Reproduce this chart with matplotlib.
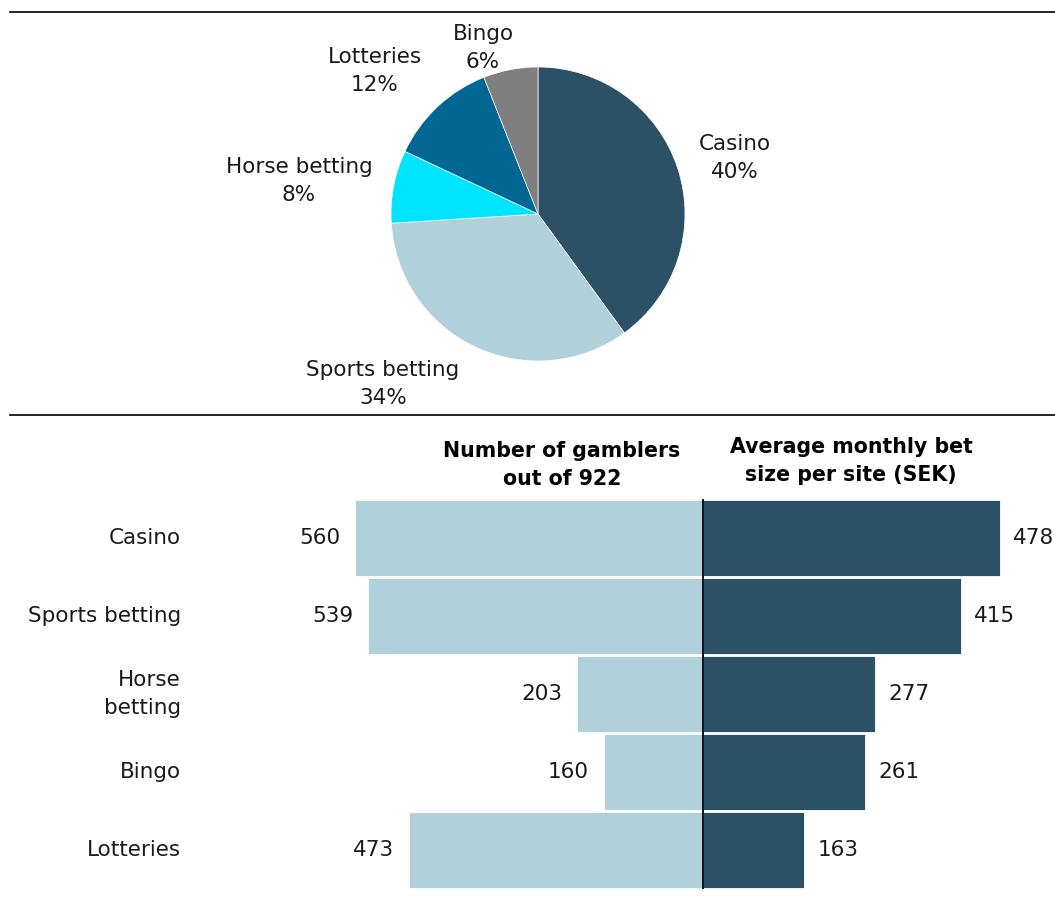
import matplotlib
matplotlib.use("Agg")
import matplotlib.pyplot as plt
from matplotlib.lines import Line2D

plt.rcParams['font.family'] = ['DejaVu Sans']

# Pie data
pie_labels = ["Casino", "Sports betting", "Horse betting", "Lotteries", "Bingo"]
pie_values = [40, 34, 8, 12, 6]
pie_colors = ["#2C5066", "#B0D0DC", "#00E5FF", "#006794", "#7F7F7F"]

# Bar data
bar_categories = ["Casino", "Sports betting", "Horse\nbetting", "Bingo", "Lotteries"]
gamblers = [560, 539, 203, 160, 473]
bet_size = [478, 415, 277, 261, 163]
left_title = "Number of gamblers\nout of 922"
right_title = "Average monthly bet\nsize per site (SEK)"

W, H = 1055, 906
fig = plt.figure(figsize=(W / 100, H / 100), dpi=100)
FS = 15.5
LS = 1.45
TXT = "#1a1a1a"

def fx(px):
    return px / W

def fy(py):
    return 1 - py / H

# separator lines
for y in (12, 415):
    fig.add_artist(Line2D([fx(10), fx(1055)], [fy(y), fy(y)], color="black", lw=1.2))

# Pie
cx, cy, r = 538, 214, 147
axp = fig.add_axes([fx(cx - r), fy(cy + r), fx(2 * r), (2 * r) / H])
axp.pie(pie_values, colors=pie_colors, startangle=90, counterclock=False,
        wedgeprops=dict(linewidth=0.5, edgecolor="white"))
axp.set_xlim(-1, 1)
axp.set_ylim(-1, 1)
axp.axis("off")

label_pos = {
    "Casino": (735, 158),
    "Sports betting": (383, 384),
    "Horse betting": (299, 181),
    "Lotteries": (375, 71),
    "Bingo": (483, 48),
}
for lab, val in zip(pie_labels, pie_values):
    px, py = label_pos[lab]
    fig.text(fx(px), fy(py), f"{lab}\n{val}%", ha="center", va="center",
             fontsize=FS, color=TXT, linespacing=LS)

# Bars
scale = 0.621  # px per unit
zero_px = 703
ax_left_px, ax_right_px = 190, 1055
top_px, bot_px = 499, 889
ax = fig.add_axes([fx(ax_left_px), fy(bot_px), fx(ax_right_px - ax_left_px), (bot_px - top_px) / H])
ax.set_xlim(-(zero_px - ax_left_px) / scale, (ax_right_px - zero_px) / scale)
n = len(bar_categories)
ax.set_ylim(n - 0.5, -0.5)
ys = list(range(n))
ax.barh(ys, [-g for g in gamblers], height=0.975, color="#B0D0DC", edgecolor="white", linewidth=0.6)
ax.barh(ys, bet_size, height=0.975, color="#2C5066", edgecolor="white", linewidth=0.6)
ax.axvline(0, color="black", lw=1.3)
for y, g, b in zip(ys, gamblers, bet_size):
    ax.text(-g - 15 / scale, y, str(g), ha="right", va="center", fontsize=FS, color=TXT, clip_on=False)
    ax.text(b + 13 / scale, y, str(b), ha="left", va="center", fontsize=FS, color=TXT, clip_on=False)
ax.axis("off")

for y, cat in zip(ys, bar_categories):
    fig.text(fx(181), fy(538 + 78 * y), cat, ha="right", va="center", fontsize=FS,
             color=TXT, linespacing=LS)

fig.text(fx(562), fy(465), left_title, ha="center", va="center", fontsize=14.8,
         fontweight="bold", linespacing=1.5)
fig.text(fx(851), fy(461), right_title, ha="center", va="center", fontsize=14.8,
         fontweight="bold", linespacing=1.5)

fig.savefig("out.png", dpi=100)
